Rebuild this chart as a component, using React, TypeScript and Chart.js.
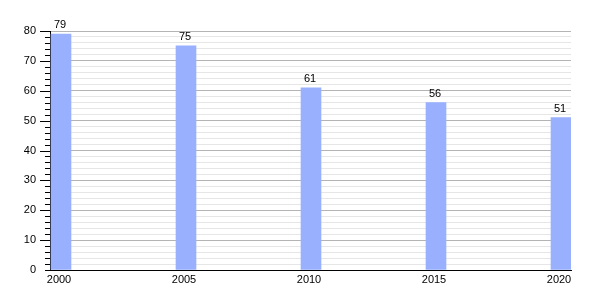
import React, { useEffect, useRef } from "react";
import { Chart, registerables } from "chart.js";

Chart.register(...registerables);

const years = [2000, 2005, 2010, 2015, 2020];
const values = [79, 75, 61, 56, 51];
const yMin = 0;
const yMax = 80;
const yStep = 2;

const FONT = "'Liberation Sans', Arial, sans-serif";

const tickMarks = {
  id: "tickMarks",
  afterDraw(chart: any) {
    const ctx = chart.ctx;
    const ys = chart.scales.y;
    ctx.save();
    ctx.strokeStyle = "#000";
    ctx.lineWidth = 1;
    ys.ticks.forEach((t: any) => {
      const v = t.value;
      const len = v !== 0 && v % 10 === 0 ? 10 : 5;
      const py = Math.round(ys.getPixelForValue(v)) + 0.5;
      const x1 = ys.right;
      ctx.beginPath();
      ctx.moveTo(x1 - len, py);
      ctx.lineTo(x1, py);
      ctx.stroke();
    });
    // value labels above bars
    const meta = chart.getDatasetMeta(0);
    ctx.fillStyle = "#000";
    ctx.font = `11px ${FONT}`;
    ctx.textAlign = "center";
    ctx.textBaseline = "alphabetic";
    meta.data.forEach((el: any, i: number) => {
      ctx.fillText(String(values[i]), el.x - 1, el.y - 6);
    });
    ctx.restore();
  },
};

export default function App() {
  const ref = useRef<HTMLCanvasElement>(null);
  useEffect(() => {
    const canvas = ref.current!;
    const chart = new Chart(canvas, {
      type: "bar",
      data: {
        datasets: [
          {
            data: years.map((yr, i) => ({ x: yr + 0.44, y: values[i] })),
            backgroundColor: "rgb(153,176,255)",
            borderWidth: 0,
            barThickness: 20,
          },
        ],
      },
      options: {
        responsive: false,
        animation: false,
        events: [],
        layout: { padding: { top: 31, right: 29, left: 0, bottom: 0 } },
        plugins: {
          legend: { display: false },
          tooltip: { enabled: false },
        },
        scales: {
          x: {
            type: "linear",
            min: 2000,
            max: 2020.84,
            offset: false,
            grid: { display: false, drawTicks: false, offset: false },
            border: { display: true, color: "#000", width: 1 },
            afterBuildTicks: (scale: any) => {
              scale.ticks = years.map((yr) => ({ value: yr + 0.36 }));
            },
            afterFit: (scale: any) => {
              scale.height = 30;
            },
            ticks: {
              padding: 3,
              color: "#000",
              font: { family: FONT, size: 11 },
              maxRotation: 0,
              autoSkip: false,
              callback: (v: any) => String(Math.round(Number(v))),
            },
          },
          y: {
            type: "linear",
            min: yMin,
            max: yMax,
            afterFit: (scale: any) => {
              scale.width = 50;
            },
            grid: {
              drawTicks: false,
              color: (c: any) =>
                c.tick && c.tick.value % 10 === 0 ? "#b4b4b4" : "#e6e6e6",
              lineWidth: 1,
            },
            border: { display: true, color: "#000", width: 1 },
            ticks: {
              stepSize: yStep,
              padding: 14,
              color: "#000",
              font: { family: FONT, size: 11 },
              autoSkip: false,
              callback: (v: any) => (Number(v) % 10 === 0 ? String(v) : ""),
            },
          },
        },
      },
      plugins: [tickMarks],
    });
    return () => chart.destroy();
  }, []);
  return (
    <div style={{ position: "fixed", left: 0, top: 0, width: 600, height: 300, background: "#fff" }}>
      <canvas ref={ref} width={600} height={300} />
    </div>
  );
}
